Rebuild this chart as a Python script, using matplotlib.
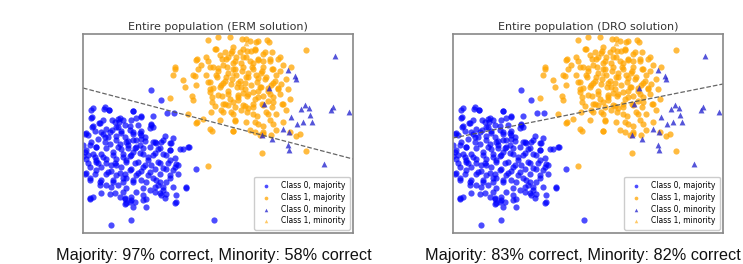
import numpy as np
import matplotlib
matplotlib.use("Agg")
import matplotlib.pyplot as plt

# point positions (x: 0..270, y: 0..199)
blue_maj_x = [68, 78, 84, 91, 21, 8, 26, 50, 58, 70, 8, 35, 29, 36, 16, 42, 55, 68, 67, 9,
              23, 29, 20, 38, 47, 50, 58, 5, 2, 15, 33, 42, 53, 62, 73, 78, 87, 97, 105, 22,
              27, 7, 13, 37, 45, 57, 67, 75, 87, 2, 10, 18, 30, 40, 50, 60, 70, 80, 3, 13,
              23, 33, 43, 55, 65, 75, 87, 93, 7, 18, 28, 38, 48, 60, 72, 83, 92, 113, 2, 12,
              23, 33, 42, 53, 65, 77, 87, 95, 7, 17, 30, 40, 50, 63, 73, 83, 23, 35, 75, 80,
              103, 18, 27, 40, 53, 67, 83, 77, 7, 42, 47, 37, 48, 63, 78, 50, 63, 42, 93, 28,
              48, 131, 45, 52, 38, 62, 25, 32, 47, 58, 68, 15, 5, 28, 43, 60, 70, 82, 90, 12,
              35, 58, 48, 20, 0, 0,
              10, 22, 26, 50, 9, 37, 58, 53, 32, 40, 10, 17, 33, 47, 68, 70, 3, 18, 27, 38,
              50, 57, 8, 22, 33, 43, 50, 58, 72, 80, 88, 3, 13, 23, 35, 45, 53, 60, 77, 87,
              100, 106, 5, 12, 20, 30, 40, 48, 57, 65, 72, 83, 92, 13, 23, 33, 43, 52, 62, 77,
              85, 95, 3, 13, 25, 37, 47, 55, 67, 80, 90, 7, 18, 30, 40, 50, 58, 70, 77, 87,
              17, 28, 43, 72, 80, 90, 103, 10, 32, 42, 48, 60, 72, 82, 93, 7, 43, 52, 60, 92]
blue_maj_y = [143, 133, 120, 120, 124, 123, 123, 122, 116, 117, 115, 114, 113, 111, 110, 108, 108, 108, 105, 106,
              104, 103, 99, 102, 103, 99, 98, 98, 99, 94, 97, 96, 93, 92, 90, 91, 90, 84, 86, 91,
              89, 88, 86, 89, 88, 88, 86, 84, 83, 81, 79, 79, 81, 79, 81, 79, 78, 79, 74, 73,
              74, 74, 73, 71, 73, 71, 73, 69, 66, 66, 68, 66, 64, 66, 64, 64, 66, 64, 59, 59,
              59, 58, 59, 58, 58, 59, 58, 59, 53, 51, 53, 51, 53, 51, 53, 51, 48, 48, 48, 46,
              46, 40, 39, 41, 41, 43, 39, 40, 34, 34, 31, 36, 36, 34, 38, 26, 26, 29, 31, 8,
              13, 13, 92, 85, 84, 96, 96, 70, 77, 62, 68, 70, 70, 62, 55, 45, 91, 97, 95, 102,
              106, 102, 113, 113, 77, 88,
              125, 126, 123, 122, 116, 115, 117, 115, 111, 113, 107, 110, 106, 107, 109, 106, 100, 101, 101, 100,
              101, 100, 91, 96, 93, 91, 93, 94, 91, 93, 90, 83, 86, 85, 86, 85, 86, 85, 85, 83,
              84, 86, 78, 76, 76, 78, 76, 78, 80, 76, 80, 78, 75, 71, 70, 68, 71, 70, 68, 70,
              70, 68, 60, 63, 61, 60, 63, 60, 61, 65, 63, 55, 53, 51, 55, 51, 53, 55, 51, 55,
              48, 46, 45, 46, 43, 46, 45, 36, 40, 35, 33, 38, 41, 35, 38, 35, 30, 31, 33, 30]

orange_maj_x = [125, 147, 163, 173, 186, 133, 150, 160, 172, 182, 223, 113, 123, 137, 143, 153, 163, 175, 187, 197,
                92, 100, 118, 130, 140, 150, 160, 170, 180, 190, 200, 208, 90, 110, 123, 133, 143, 153, 163, 173,
                183, 193, 203, 113, 127, 138, 148, 158, 168, 178, 188, 198, 205, 87, 110, 127, 135, 145, 155, 165,
                175, 187, 197, 207, 129, 140, 150, 160, 170, 180, 190, 200, 128, 138, 148, 158, 170, 183, 193, 203,
                105, 113, 120, 137, 152, 163, 175, 187, 200, 127, 150, 167, 180, 193, 207, 177, 188, 213, 217, 179,
                223, 125, 145, 155, 165, 170, 150, 140, 160, 175, 185, 135, 148, 158, 168, 178, 190, 130, 145, 155,
                165, 175, 185, 195, 180, 162,
                135, 159, 167, 175, 184, 132, 142, 149, 157, 164, 172, 180, 189, 114, 125, 139, 145, 152, 160, 167,
                175, 187, 195, 92, 115, 127, 135, 144, 152, 159, 169, 179, 189, 197, 112, 125, 134, 142, 149, 157,
                165, 174, 182, 192, 102, 127, 137, 145, 154, 162, 170, 177, 185, 195, 109, 129, 139, 147, 155, 164,
                172, 180, 190, 132, 142, 152, 162, 170, 179, 189, 199, 140, 150, 164, 174, 185, 114, 152, 172, 180,
                190, 129, 150, 172, 180]
orange_maj_y = [193, 196, 194, 191, 191, 184, 186, 184, 183, 181, 183, 173, 176, 178, 174, 176, 176, 173, 174, 176,
                164, 153, 168, 166, 168, 164, 166, 164, 166, 164, 168, 166, 158, 158, 158, 158, 156, 158, 156, 158,
                156, 158, 154, 148, 151, 148, 149, 146, 148, 146, 148, 149, 144, 135, 133, 141, 138, 139, 138, 139,
                136, 139, 139, 134, 131, 129, 131, 128, 129, 128, 131, 129, 121, 123, 121, 123, 119, 121, 119, 123,
                119, 110, 114, 113, 113, 111, 109, 113, 111, 104, 102, 103, 101, 103, 101, 98, 98, 97, 99, 80,
                82, 67, 160, 150, 160, 170, 170, 150, 140, 155, 145, 165, 180, 170, 182, 160, 150, 145, 128, 133,
                125, 142, 132, 145, 172, 150,
                196, 194, 192, 192, 193, 184, 181, 182, 181, 182, 184, 179, 181, 174, 172, 174, 176, 172, 176, 172,
                174, 172, 174, 166, 164, 166, 162, 166, 164, 162, 166, 162, 164, 162, 157, 151, 156, 152, 154, 152,
                156, 151, 154, 152, 146, 144, 146, 142, 146, 144, 141, 146, 142, 144, 137, 136, 137, 134, 136, 137,
                134, 137, 136, 127, 129, 126, 127, 126, 129, 126, 129, 121, 119, 121, 117, 119, 111, 112, 111, 107,
                109, 102, 102, 101, 99]

blue_min_x = [252, 205, 212, 213, 186, 181, 222, 218, 226, 250, 248, 266, 208, 227, 220, 229, 214, 200, 206, 179,
              189, 205, 206, 241]
blue_min_y = [177, 163, 157, 154, 145, 129, 128, 124, 125, 126, 123, 121, 116, 118, 111, 111, 109, 104, 101, 98,
              94, 88, 83, 69]

orange_min_x = [163, 150]
orange_min_y = [190, 160]

# decision boundaries (y at left / right edge)
line_x = [0, 270]
erm_line_y = [145, 74]
dro_line_y = [95, 149]

titles = ["Entire population (ERM solution)", "Entire population (DRO solution)"]
captions = ["Majority: 97% correct, Minority: 58% correct",
            "Majority: 83% correct, Minority: 82% correct"]

fig = plt.figure(figsize=(7.43, 2.64), dpi=100)
axes = [fig.add_axes([0.1117, 0.1174, 0.3634, 0.7538]),
        fig.add_axes([0.6097, 0.1174, 0.3634, 0.7538])]

for ax, title, line_y in zip(axes, titles, [erm_line_y, dro_line_y]):
    ax.scatter(blue_maj_x, blue_maj_y, s=20, color="#0000ff", alpha=0.7, linewidths=0,
               label="Class 0, majority")
    ax.scatter(orange_maj_x, orange_maj_y, s=20, color="#ffa500", alpha=0.75, linewidths=0,
               label="Class 1, majority")
    ax.scatter(blue_min_x, blue_min_y, s=18, marker="^", color="#2a2ad0", alpha=0.8, linewidths=0,
               label="Class 0, minority")
    ax.scatter(orange_min_x, orange_min_y, s=18, marker="^", color="#ffa500", alpha=0.6, linewidths=0,
               label="Class 1, minority")
    ax.plot(line_x, line_y, "--", color="#555555", lw=0.9, alpha=0.9)
    ax.set_xlim(0, 270)
    ax.set_ylim(0, 199)
    ax.set_xticks([])
    ax.set_yticks([])
    for sp in ax.spines.values():
        sp.set_color("#888888")
        sp.set_linewidth(1.2)
    ax.set_title(title, fontsize=8, color="#333333", pad=3)
    ax.legend(loc="lower right", fontsize=5.5, markerscale=0.6, handletextpad=0.9,
              borderpad=0.6, labelspacing=0.35, borderaxespad=0.4, framealpha=1,
              edgecolor="#cccccc")

fig.text(0.288, 0.034, captions[0], ha="center", va="center", fontsize=11.7,
         family="Liberation Sans", color="#111111")
fig.text(0.784, 0.034, captions[1], ha="center", va="center", fontsize=11.7,
         family="Liberation Sans", color="#111111")

fig.savefig("out.png", dpi=100, facecolor="white")
